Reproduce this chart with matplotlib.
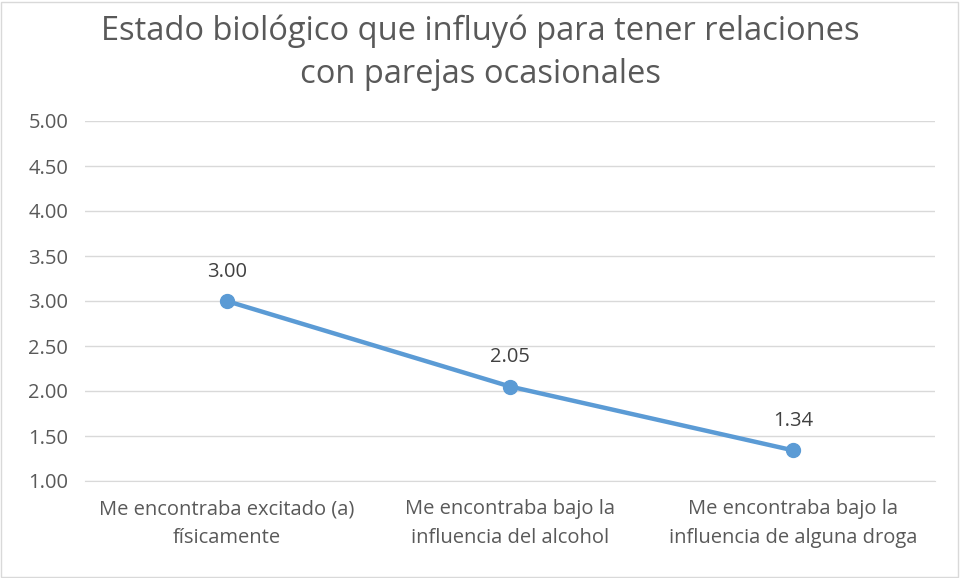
import matplotlib
matplotlib.use("Agg")
import matplotlib.pyplot as plt
from matplotlib.patches import Rectangle

# data
categories = [
    "Me encontraba excitado (a)\nfísicamente",
    "Me encontraba bajo la\ninfluencia del alcohol",
    "Me encontraba bajo la\ninfluencia de alguna droga",
]
values = [3.00, 2.05, 1.34]
yticks = [1.00, 1.50, 2.00, 2.50, 3.00, 3.50, 4.00, 4.50, 5.00]

plt.rcParams['font.family'] = ['Open Sans', 'DejaVu Sans']
line_color = '#5B9BD5'
text_color = '#595959'

fig = plt.figure(figsize=(9.6, 5.78), dpi=100, facecolor='white')
ax = fig.add_axes([85 / 960, 1 - 481 / 578, 850 / 960, 360 / 578])

x = list(range(len(categories)))
ax.plot(x, values, color=line_color, linewidth=3.2, marker='o',
        markersize=10, zorder=3)
for xi, v in zip(x, values):
    ax.annotate(f"{v:.2f}", (xi, v), xytext=(0, 14), textcoords='offset points',
                ha='center', va='bottom', fontsize=14.5, color='#404040')

ax.set_xlim(-0.5, len(categories) - 0.5)
ax.set_ylim(1.0, 5.0)
ax.set_yticks(yticks)
ax.set_yticklabels([f"{t:.2f}" for t in yticks])
ax.set_xticks(x)
ax.set_xticklabels(categories, linespacing=1.6)
ax.tick_params(axis='y', length=0, pad=12, labelsize=14.5, labelcolor=text_color)
ax.tick_params(axis='x', length=0, pad=13, labelsize=14.5, labelcolor=text_color)
ax.grid(axis='y', color='#D9D9D9', linewidth=1)
ax.set_axisbelow(True)
for side in ['top', 'right', 'left']:
    ax.spines[side].set_visible(False)
ax.spines['bottom'].set_color('#D9D9D9')

fig.text(0.5, 1 - 53 / 578, "Estado biológico que influyó para tener relaciones\ncon parejas ocasionales",
         ha='center', va='center', fontsize=23.5, color=text_color, linespacing=1.38)

# thin border around the chart area
fig.patches.append(Rectangle((0.5 / 960, 1.5 / 578), 957 / 960, 575 / 578,
                             transform=fig.transFigure, fill=False,
                             edgecolor='#D9D9D9', linewidth=1))

fig.savefig('out.png', dpi=100)
